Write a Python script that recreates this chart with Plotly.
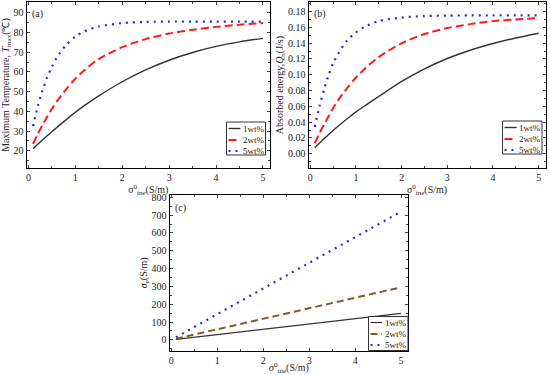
import plotly.graph_objects as go

# ---------------- data ----------------
x_vals = [0.1, 0.2, 0.3, 0.4, 0.5, 0.6, 0.8, 1.0, 1.2, 1.5, 2.0, 2.5, 3.0, 3.5, 4.0, 4.5, 5.0]

# (a) maximum temperature (°C)
temp_1wt = [21.0, 23.3, 25.5, 27.6, 29.7, 31.7, 35.7, 39.5, 43.0, 47.8, 55.0, 61.0, 65.9, 69.8, 72.9, 75.2, 77.0]
temp_2wt = [23.5, 28.5, 33.0, 37.3, 41.2, 44.8, 51.0, 56.5, 61.0, 66.5, 72.5, 76.6, 79.4, 81.3, 82.8, 83.9, 84.7]
temp_5wt = [32.5, 42.5, 50.5, 57.2, 62.5, 67.0, 73.5, 77.8, 80.6, 83.0, 84.7, 85.3, 85.5, 85.5, 85.5, 85.5, 85.5]

# (b) absorbed energy (J/s)
q_1wt = [0.008, 0.0135, 0.019, 0.0243, 0.0295, 0.0345, 0.044, 0.053, 0.061, 0.0725, 0.0915, 0.1075, 0.1205, 0.131, 0.1395, 0.1465, 0.1525]
q_2wt = [0.0135, 0.026, 0.037, 0.0475, 0.0578, 0.067, 0.0826, 0.0965, 0.108, 0.1225, 0.1397, 0.1515, 0.1591, 0.164, 0.1678, 0.170, 0.1718]
q_5wt = [0.034, 0.060, 0.081, 0.0996, 0.1145, 0.1255, 0.143, 0.1535, 0.161, 0.168, 0.1723, 0.1742, 0.1748, 0.175, 0.175, 0.175, 0.175]

# (c) effective conductivity (S/m)
s_1wt = [3, 6, 9, 12, 15, 18, 24, 30, 36, 44, 59, 74, 89, 104, 118, 133, 148]
s_2wt = [6, 12, 18, 24, 30, 35, 47, 59, 71, 89, 118, 148, 177, 207, 236, 266, 295]
s_5wt = [14, 29, 43, 58, 72, 86, 115, 144, 173, 216, 288, 360, 432, 504, 576, 648, 720]

labels = ["1wt%", "2wt%", "5wt%"]

FONT = "Liberation Serif, Times New Roman, serif"
TXT = "#222222"

fig = go.Figure()

styles_ab = [
    dict(color="#333333", width=1.4, dash="solid"),
    dict(color="#ff1a1a", width=2, dash="8px,4px"),
    dict(color="#2a2ad0", width=2.2, dash="2px,5px"),
]
styles_c = [
    dict(color="#333333", width=1.2, dash="solid"),
    dict(color="#8a5a22", width=2, dash="7px,4px"),
    dict(color="#2a2ad0", width=2.2, dash="2px,5px"),
]

for ys, st, lab in zip([temp_1wt, temp_2wt, temp_5wt], styles_ab, labels):
    fig.add_trace(go.Scatter(x=x_vals, y=ys, mode="lines", name=lab,
                             line=dict(shape="spline", smoothing=0.8, **st),
                             xaxis="x", yaxis="y", showlegend=False))
for ys, st, lab in zip([q_1wt, q_2wt, q_5wt], styles_ab, labels):
    fig.add_trace(go.Scatter(x=x_vals, y=ys, mode="lines", name=lab,
                             line=dict(shape="spline", smoothing=0.8, **st),
                             xaxis="x2", yaxis="y2", showlegend=False))
for ys, st, lab in zip([s_1wt, s_2wt, s_5wt], styles_c, labels):
    fig.add_trace(go.Scatter(x=x_vals, y=ys, mode="lines", name=lab, line=dict(**st),
                             xaxis="x3", yaxis="y3", showlegend=False))

xtitle = "σ<sup>0</sup><sub>ine</sub>(S/m)"

def xax(domain, anchor):
    return dict(domain=domain, anchor=anchor, range=[-0.04, 5.15], tickvals=[0, 1, 2, 3, 4, 5],
                ticks="inside", ticklen=3, mirror="allticks", showline=True, linecolor="black",
                linewidth=1, showgrid=False, zeroline=False, automargin=False,
                minor=dict(ticks="inside", ticklen=2, dtick=0.5, tick0=0, showgrid=False),
                tickfont=dict(size=10, family=FONT, color=TXT),
                title=dict(text=xtitle, font=dict(size=10, family=FONT, color=TXT), standoff=0))

def yax(domain, anchor, rng, tickvals, ticktext, title, minor_dtick):
    return dict(domain=domain, anchor=anchor, range=rng, tickvals=tickvals, ticktext=ticktext,
                ticks="inside", ticklen=3, mirror="allticks", showline=True, linecolor="black",
                linewidth=1, showgrid=False, zeroline=False, automargin=False,
                minor=dict(ticks="inside", ticklen=2, dtick=minor_dtick, showgrid=False),
                tickfont=dict(size=10, family=FONT, color=TXT),
                title=dict(text=title, font=dict(size=10, family=FONT, color=TXT), standoff=2))

ya_ticks = [20, 30, 40, 50, 60, 70, 80, 90]
yb_ticks = [0.0, 0.02, 0.04, 0.06, 0.08, 0.10, 0.12, 0.14, 0.16, 0.18]
yb_text = ["0.00", "0.02", "0.04", "0.06", "0.08", "0.10", "0.12", "0.14", "0.16", "0.18"]
yc_ticks = [0, 100, 200, 300, 400, 500, 600, 700, 800]

W, H = 550, 375
def px(x):
    return x / W
def py(y):
    return 1 - y / H

shapes = []
annotations = []

def add_legend(x0, y0, x1, y1, styles, rows, sample_x0, sample_x1, text_x):
    shapes.append(dict(type="rect", xref="paper", yref="paper", x0=px(x0), x1=px(x1),
                       y0=py(y1), y1=py(y0), line=dict(color="#333", width=1), fillcolor="white",
                       layer="above"))
    for st, lab, ry in zip(styles, labels, rows):
        shapes.append(dict(type="line", xref="paper", yref="paper", x0=px(sample_x0), x1=px(sample_x1),
                           y0=py(ry), y1=py(ry), layer="above",
                           line=dict(color=st["color"], width=st["width"], dash=st["dash"])))
        annotations.append(dict(text=lab, x=px(text_x), y=py(ry), xref="paper", yref="paper",
                                showarrow=False, xanchor="left", yanchor="middle",
                                font=dict(size=9, family=FONT, color=TXT)))

add_legend(226.5, 122, 265.5, 155, styles_ab, [128.5, 140, 151], 228.5, 240.5, 241)
add_legend(502.5, 121, 542, 154, styles_ab, [127.5, 139, 150], 504.5, 516.5, 517)
add_legend(368.5, 316.5, 408, 350.5, styles_c, [322.5, 334, 345], 370.5, 382, 382.5)

for txt, x, y in [("(a)", 30, 6), ("(b)", 312, 6), ("(c)", 173, 200)]:
    annotations.append(dict(text=txt, x=px(x), y=py(y), xref="paper", yref="paper", showarrow=False,
                            xanchor="left", yanchor="top", font=dict(size=10, family=FONT, color=TXT)))

fig.update_layout(
    width=W, height=H, margin=dict(l=0, r=0, t=0, b=0),
    paper_bgcolor="white", plot_bgcolor="white", showlegend=False,
    xaxis=xax([px(26.5), px(270)], "y"),
    yaxis=yax([py(168), py(2)], "x", [11.3, 95.4], ya_ticks, [str(v) for v in ya_ticks],
              "Maximum Temperature, <i>T</i><sub>max</sub>(℃)", 5),
    xaxis2=xax([px(308.5), px(545.5)], "y2"),
    yaxis2=yax([py(168), py(2)], "x2", [-0.018, 0.192], yb_ticks, yb_text,
               "Absorbed energy,<i>Q</i><sub>h</sub>(J/s)", 0.01),
    xaxis3=xax([px(169.5), px(408)], "y3"),
    yaxis3=yax([py(350.5), py(195)], "x3", [-60, 813], yc_ticks, [str(v) for v in yc_ticks],
               "<i>σ</i><sub>e</sub>(S/m)", 50),
    shapes=shapes,
    annotations=annotations,
)

fig.write_html("out.html", config={"displayModeBar": False},
               post_script="document.body.style.margin='0px';document.body.style.padding='0px';"
                           "document.body.style.overflow='hidden';")
